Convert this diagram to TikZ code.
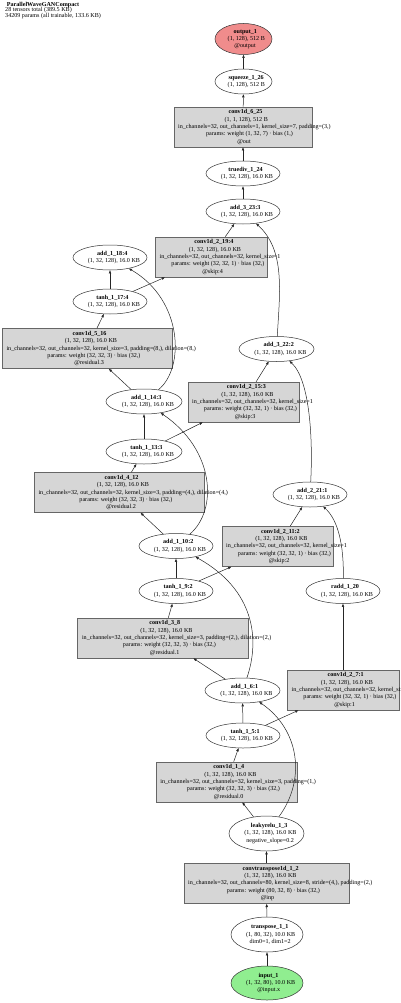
\documentclass[tikz,border=0pt]{standalone}
\usepackage{fontspec}
\setmainfont{Liberation Serif}
\usetikzlibrary{shapes.geometric,arrows.meta}
\definecolor{outred}{HTML}{F08C8C}
\definecolor{ingreen}{HTML}{90EE90}
\definecolor{boxgray}{HTML}{D6D6D6}
\newcommand\gvl[1]{\makebox[0.85\width][l]{#1}}
\newcommand\tl[1]{\gvl{\textbf{#1}}}
\newcommand\KB{(1, 32, 128), 16.0 KB}
\begin{document}
\begin{tikzpicture}[x=1pt,y=-1pt,
  txt/.style={font=\fontsize{6.1}{7.3}\selectfont, align=center, inner sep=0pt},
  hdr/.style={font=\fontsize{6.1}{6}\selectfont, inner sep=0pt},
  ell/.style={ellipse, draw=black!80, line width=0.5pt, inner sep=0pt, fill=white},
  boxn/.style={rectangle, draw=black!60, line width=0.6pt, inner sep=0pt, fill=boxgray},
  arr/.style={-{Triangle[length=3.2pt,width=2.4pt]}, line width=0.5pt, draw=black!85}]
\useasboundingbox (0,0) rectangle (400,1003);
% header
\node[hdr, anchor=base west] (h1) at (6.7,6.6) {\textbf{ParallelWaveGANCompact}};
\node[hdr, anchor=base west] (h2) at (5,11.9) {28 tensors total (389.5 KB)};
\node[hdr, anchor=base west] (h3) at (5,17.3) {34209 params (all trainable, 133.6 KB)};
% nodes
\node[ell, fill=outred, minimum width=57, minimum height=31] (output) at (243.5,39)
  [label={[txt]center:{\tl{output\_1}\\\gvl{(1, 128), 512 B}\\\gvl{@output}}}] {};
\node[ell, minimum width=57, minimum height=25] (squeeze) at (243.5,81.5)
  [label={[txt]center:{\tl{squeeze\_1\_26}\\\gvl{(1, 128), 512 B}}}] {};
\node[boxn, minimum width=138, minimum height=40] (conv625) at (243,127)
  [label={[txt]center:{\tl{conv1d\_6\_25}\\\gvl{(1, 1, 128), 512 B}\\\gvl{in\_channels=32, out\_channels=1, kernel\_size=7, padding=(3,)}\\\gvl{params: weight (1, 32, 7) · bias (1,)}\\\gvl{@out}}}] {};
\node[ell, minimum width=74, minimum height=25] (truediv) at (243,173.5)
  [label={[txt]center:{\tl{truediv\_1\_24}\\\gvl{\KB}}}] {};
\node[ell, minimum width=74, minimum height=25] (add23) at (243,211.5)
  [label={[txt]center:{\tl{add\_3\_23:3}\\\gvl{\KB}}}] {};
\node[boxn, minimum width=112, minimum height=40] (conv219) at (211,257)
  [label={[txt]center:{\tl{conv1d\_2\_19:4}\\\gvl{\KB}\\\gvl{in\_channels=32, out\_channels=32, kernel\_size=1}\\\gvl{params: weight (32, 32, 1) · bias (32,)}\\\gvl{@skip:4}}}] {};
\node[ell, minimum width=74, minimum height=25] (add18) at (110,257.5)
  [label={[txt]center:{\tl{add\_1\_18:4}\\\gvl{\KB}}}] {};
\node[ell, minimum width=74, minimum height=25] (tanh17) at (110,301.5)
  [label={[txt]center:{\tl{tanh\_1\_17:4}\\\gvl{\KB}}}] {};
\node[boxn, minimum width=170, minimum height=40] (conv516) at (87,348.5)
  [label={[txt]center:{\tl{conv1d\_5\_16}\\\gvl{\KB}\\\gvl{in\_channels=32, out\_channels=32, kernel\_size=3, padding=(8,), dilation=(8,)}\\\gvl{params: weight (32, 32, 3) · bias (32,)}\\\gvl{@residual.3}}}] {};
\node[ell, minimum width=75, minimum height=25] (add22) at (276.5,349)
  [label={[txt]center:{\tl{add\_3\_22:2}\\\gvl{\KB}}}] {};
\node[ell, minimum width=76, minimum height=25] (add14) at (144,401.5)
  [label={[txt]center:{\tl{add\_1\_14:3}\\\gvl{\KB}}}] {};
\node[boxn, minimum width=111, minimum height=40] (conv215) at (243.5,402)
  [label={[txt]center:{\tl{conv1d\_2\_15:3}\\\gvl{\KB}\\\gvl{in\_channels=32, out\_channels=32, kernel\_size=1}\\\gvl{params: weight (32, 32, 1) · bias (32,)}\\\gvl{@skip:3}}}] {};
\node[ell, minimum width=76, minimum height=25] (tanh13) at (144,451.5)
  [label={[txt]center:{\tl{tanh\_1\_13:3}\\\gvl{\KB}}}] {};
\node[boxn, minimum width=170, minimum height=40] (conv412) at (119,492.5)
  [label={[txt]center:{\tl{conv1d\_4\_12}\\\gvl{\KB}\\\gvl{in\_channels=32, out\_channels=32, kernel\_size=3, padding=(4,), dilation=(4,)}\\\gvl{params: weight (32, 32, 3) · bias (32,)}\\\gvl{@residual.2}}}] {};
\node[ell, minimum width=74, minimum height=25] (add21) at (310,494.5)
  [label={[txt]center:{\tl{add\_2\_21:1}\\\gvl{\KB}}}] {};
\node[ell, minimum width=74, minimum height=25] (add10) at (176,546)
  [label={[txt]center:{\tl{add\_1\_10:2}\\\gvl{\KB}}}] {};
\node[boxn, minimum width=111, minimum height=40] (conv211) at (277.5,546.5)
  [label={[txt]center:{\tl{conv1d\_2\_11:2}\\\gvl{\KB}\\\gvl{in\_channels=32, out\_channels=32, kernel\_size=1}\\\gvl{params: weight (32, 32, 1) · bias (32,)}\\\gvl{@skip:2}}}] {};
\node[ell, minimum width=74, minimum height=25] (tanh9) at (176,591)
  [label={[txt]center:{\tl{tanh\_1\_9:2}\\\gvl{\KB}}}] {};
\node[ell, minimum width=74, minimum height=25] (radd) at (343,591)
  [label={[txt]center:{\tl{radd\_1\_20}\\\gvl{\KB}}}] {};
\node[boxn, minimum width=171, minimum height=40] (conv38) at (162.5,638)
  [label={[txt]center:{\tl{conv1d\_3\_8}\\\gvl{\KB}\\\gvl{in\_channels=32, out\_channels=32, kernel\_size=3, padding=(2,), dilation=(2,)}\\\gvl{params: weight (32, 32, 3) · bias (32,)}\\\gvl{@residual.1}}}] {};
\node[ell, minimum width=75, minimum height=25] (add6) at (242.5,690.5)
  [label={[txt]center:{\tl{add\_1\_6:1}\\\gvl{\KB}}}] {};
\node[boxn, minimum width=112, minimum height=40] (conv27) at (343,690)
  [label={[txt]center:{\tl{conv1d\_2\_7:1}\\\gvl{\KB}\\\gvl{in\_channels=32, out\_channels=32, kernel\_size=1}\\\gvl{params: weight (32, 32, 1) · bias (32,)}\\\gvl{@skip:1}}}] {};
\node[ell, minimum width=74, minimum height=25] (tanh5) at (243,735.5)
  [label={[txt]center:{\tl{tanh\_1\_5:1}\\\gvl{\KB}}}] {};
\node[boxn, minimum width=141, minimum height=40] (conv14) at (226.5,782)
  [label={[txt]center:{\tl{conv1d\_1\_4}\\\gvl{\KB}\\\gvl{in\_channels=32, out\_channels=32, kernel\_size=3, padding=(1,)}\\\gvl{params: weight (32, 32, 3) · bias (32,)}\\\gvl{@residual.0}}}] {};
\node[ell, minimum width=75, minimum height=35] (leaky) at (266.5,833.5)
  [label={[txt]center:{\tl{leakyrelu\_1\_3}\\\gvl{\KB}\\\gvl{negative\_slope=0.2}}}] {};
\node[boxn, minimum width=165, minimum height=40] (convT) at (266.5,883.5)
  [label={[txt]center:{\tl{convtranspose1d\_1\_2}\\\gvl{\KB}\\\gvl{in\_channels=32, out\_channels=80, kernel\_size=8, stride=(4,), padding=(2,)}\\\gvl{params: weight (80, 32, 8) · bias (32,)}\\\gvl{@inp}}}] {};
\node[ell, minimum width=72, minimum height=35] (transpose) at (267,934.5)
  [label={[txt]center:{\tl{transpose\_1\_1}\\\gvl{(1, 80, 32), 10.0 KB}\\\gvl{dim0=1, dim1=2}}}] {};
\node[ell, fill=ingreen, minimum width=72, minimum height=34] (input) at (267,983)
  [label={[txt]center:{\tl{input\_1}\\\gvl{(1, 32, 80), 10.0 KB}\\\gvl{@input.x}}}] {};
% edges
\draw[arr] (input) -- (transpose);
\draw[arr] (transpose) -- (convT);
\draw[arr] (convT) -- (leaky);
\draw[arr] (leaky) -- (conv14);
\draw[arr] (leaky) .. controls (306,780) and (300,730) .. (add6);
\draw[arr] (conv14) -- (tanh5);
\draw[arr] (tanh5) -- (add6);
\draw[arr] (tanh5) -- (conv27);
\draw[arr] (add6) -- (conv38);
\draw[arr] (add6) .. controls (260,640) and (255,590) .. (add10);
\draw[arr] (conv38) -- (tanh9);
\draw[arr] (tanh9) -- (add10);
\draw[arr] (tanh9) -- (conv211);
\draw[arr] (conv27) -- (radd);
\draw[arr] (radd) .. controls (344,545) and (338,520) .. (add21);
\draw[arr] (conv211) -- (add21);
\draw[arr] (add10) -- (conv412);
\draw[arr] (add10) .. controls (218,510) and (215,450) .. (add14);
\draw[arr] (conv412) -- (tanh13);
\draw[arr] (tanh13) -- (add14);
\draw[arr] (tanh13) -- (conv215);
\draw[arr] (add21) .. controls (313,440) and (310,380) .. (add22);
\draw[arr] (conv215) -- (add22);
\draw[arr] (add14) -- (conv516);
\draw[arr] (add14) .. controls (185,368) and (183,300) .. (add18);
\draw[arr] (conv516) -- (tanh17);
\draw[arr] (tanh17) -- (add18);
\draw[arr] (tanh17) -- (conv219);
\draw[arr] (conv219) -- (add23);
\draw[arr] (add22) .. controls (280,290) and (285,250) .. (add23);
\draw[arr] (add23) -- (truediv);
\draw[arr] (truediv) -- (conv625);
\draw[arr] (conv625) -- (squeeze);
\draw[arr] (squeeze) -- (output);
\end{tikzpicture}
\end{document}
